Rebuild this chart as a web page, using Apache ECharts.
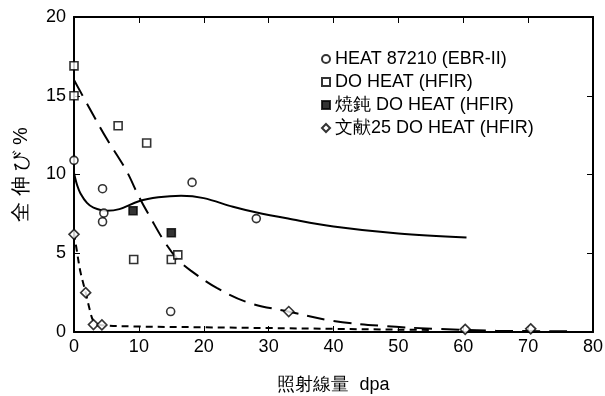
<!DOCTYPE html>
<html><head><meta charset="utf-8">
<script src="https://cdn.jsdelivr.net/npm/echarts@6/dist/echarts.min.js"></script>
<style>html,body{margin:0;padding:0;background:#fff}#c{width:605px;height:396px}</style>
</head><body><div id="c"></div>
<script>
var xTicks = [0, 10, 20, 30, 40, 50, 60, 70, 80];
var yTicks = [0, 5, 10, 15, 20];
var legendNames = ['HEAT 87210 (EBR-II)', 'DO HEAT (HFIR)', '焼鈍 DO HEAT (HFIR)', '文献25 DO HEAT (HFIR)'];

var heat87210 = [[0, 10.9], [4.4, 9.1], [4.6, 7.55], [4.4, 7.0], [18.2, 9.5], [28.1, 7.2], [14.9, 1.3]];
var doHeat = [[0, 16.9], [0, 15.0], [6.8, 13.1], [11.2, 12.0], [9.2, 4.6], [15.0, 4.6], [16.0, 4.9]];
var annealedDoHeat = [[9.1, 7.7], [15.0, 6.3]];
var ref25DoHeat = [[0, 6.2], [1.8, 2.5], [3.0, 0.47], [4.3, 0.45], [33.1, 1.3], [60.3, 0.17], [70.4, 0.2]];

var fitHeat87210 = [[0, 10.1], [0.5, 9.3], [1, 8.8], [2, 8.2], [3, 7.9], [5, 7.7], [7, 7.8], [10, 8.3], [13, 8.55], [16.5, 8.65], [20, 8.5], [24.5, 7.95], [28, 7.6], [33, 7.2], [40, 6.7], [50, 6.25], [60.5, 6.0]];
var fitDoHeat = [[0, 16], [2, 14.5], [5, 12.3], [8, 10.3], [10, 8.6], [12, 7.1], [14, 5.7], [16, 4.6], [18, 3.9], [22, 2.8], [27, 1.85], [33, 1.3], [40, 0.7], [48, 0.37], [56, 0.2], [65, 0.08], [76, 0.04]];
var fitRef25 = [[0, 6.3], [0.5, 5.0], [1, 3.8], [1.8, 2.5], [2.5, 1.3], [3, 0.7], [4, 0.45], [10, 0.35], [20, 0.3], [30, 0.25], [40, 0.2], [50, 0.15], [55, 0.13]];

(function () {
  var FONT = 'Liberation Sans';
  var xMin = xTicks[0], xMax = xTicks[xTicks.length - 1];
  var yMin = yTicks[0], yMax = yTicks[yTicks.length - 1];
  var frame = [[xMin, yMin], [xMax, yMin], [xMax, yMax], [xMin, yMax], [xMin, yMin]];
  var myChart = echarts.init(document.getElementById('c'));
  function mkScatter(name, data, symbol, size, fill) {
    return {name: name, type: 'scatter', data: data, symbol: symbol, symbolSize: size,
      itemStyle: {color: fill, borderColor: '#000', borderWidth: 1.6}, z: 5};
  }
  function mkFit(data, type) {
    return {type: 'line', data: data, smooth: 0.35, symbol: 'none', silent: true,
      lineStyle: {color: '#000', width: 2, type: type}, z: 3};
  }
  myChart.setOption({
    animation: false,
    grid: {left: 74, right: 12, top: 17, bottom: 64, outerBoundsMode: 'none'},
    legend: {
      orient: 'vertical', left: 316, top: 45, itemGap: 5, itemWidth: 8, itemHeight: 8,
      textStyle: {fontFamily: FONT, fontSize: 18, color: '#000'},
      data: legendNames
    },
    xAxis: [{
      type: 'value', min: xMin, max: xMax, interval: 10, position: 'bottom',
      name: '照射線量  dpa', nameLocation: 'middle', nameGap: 44,
      nameTextStyle: {fontFamily: FONT, fontSize: 18, color: '#000'},
      axisLine: {show: true, onZero: false, lineStyle: {color: '#000', width: 2}},
      axisTick: {show: true, inside: true, length: 6},
      splitLine: {show: false},
      axisLabel: {fontFamily: FONT, fontSize: 18, color: '#000', margin: 6}
    }, {
      type: 'value', min: xMin, max: xMax, interval: 10, position: 'top',
      axisLine: {show: true, onZero: false, lineStyle: {color: '#000', width: 2}},
      axisTick: {show: true, inside: true, length: 6},
      splitLine: {show: false},
      axisLabel: {color: 'rgba(255,255,255,0)'}
    }],
    yAxis: [{
      type: 'value', min: yMin, max: yMax, interval: 5, position: 'left',
      name: '全 伸 び %', nameLocation: 'middle', nameGap: 43, nameRotate: 90,
      nameTextStyle: {fontFamily: FONT, fontSize: 20, color: '#000'},
      axisLine: {show: true, onZero: false, lineStyle: {color: '#000', width: 2}},
      axisTick: {show: true, inside: true, length: 6},
      splitLine: {show: false},
      axisLabel: {fontFamily: FONT, fontSize: 18, color: '#000', margin: 8}
    }, {
      type: 'value', min: yMin, max: yMax, interval: 5, position: 'right',
      axisLine: {show: true, onZero: false, lineStyle: {color: '#000', width: 2}},
      axisTick: {show: true, inside: true, length: 6},
      splitLine: {show: false},
      axisLabel: {color: 'rgba(255,255,255,0)'}
    }],
    series: [
      {type: 'line', data: frame, symbol: 'none', silent: true, clip: false, smooth: false,
        lineStyle: {color: '#000', width: 2}, z: 2},
      mkFit(fitHeat87210, 'solid'),
      mkFit(fitDoHeat, [18, 9]),
      mkFit(fitRef25, [7, 5]),
      mkScatter(legendNames[0], heat87210, 'circle', 8, '#fff'),
      mkScatter(legendNames[1], doHeat, 'rect', 8, '#fff'),
      mkScatter(legendNames[2], annealedDoHeat, 'rect', 8, '#000'),
      mkScatter(legendNames[3], ref25DoHeat, 'diamond', 10, '#fff')
    ]
  });
})();
</script></body></html>
